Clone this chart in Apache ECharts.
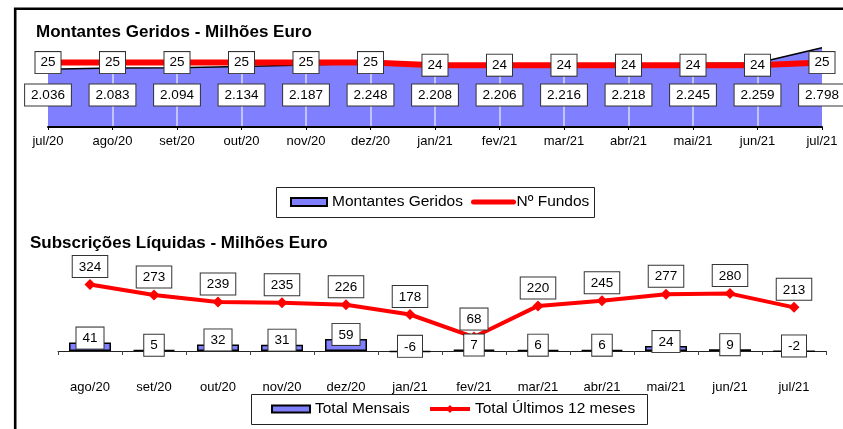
<!DOCTYPE html>
<html>
<head>
<meta charset="utf-8">
<script src="https://cdn.jsdelivr.net/npm/echarts@6/dist/echarts.min.js"></script>
<style>
html,body{margin:0;padding:0;background:#fff;}
#c{width:843px;height:429px;}
</style>
</head>
<body>
<div id="c"></div>
<script>
// ---- data ----
const months1 = ['jul/20','ago/20','set/20','out/20','nov/20','dez/20','jan/21','fev/21','mar/21','abr/21','mai/21','jun/21','jul/21'];
const montantes = [2036,2083,2094,2134,2187,2248,2208,2206,2216,2218,2245,2259,2798];
const fundos = [25,25,25,25,25,25,24,24,24,24,24,24,25];
const months2 = ['ago/20','set/20','out/20','nov/20','dez/20','jan/21','fev/21','mar/21','abr/21','mai/21','jun/21','jul/21'];
const totalMensais = [41,5,32,31,59,-6,7,6,6,24,9,-2];
const total12 = [324,273,239,235,226,178,68,220,245,277,280,213];

const FONT = '"Liberation Sans", Arial, sans-serif';
const BLUE = '#8080ff';
const RED = '#ff0000';

function fmtThousands(v){
  const s = String(Math.abs(v));
  const out = s.replace(/\B(?=(\d{3})+(?!\d))/g, '.');
  return (v < 0 ? '-' : '') + out;
}

const boxLabel = {
  show: true,
  color: '#000',
  fontFamily: FONT,
  fontSize: 13.5,
  lineHeight: 14,
  backgroundColor: '#fff',
  borderColor: '#333',
  borderWidth: 1,
  padding: [4, 6, 3, 6]
};

const chart = echarts.init(document.getElementById('c'), null, {renderer: 'canvas'});

function buildOption(amountLabelData){
  return {
    animation: false,
    textStyle: {fontFamily: FONT},
    title: [
      {text: 'Montantes Geridos - Milhões Euro', left: 36, top: 24, padding: 0,
       textStyle: {fontFamily: FONT, fontSize: 17, fontWeight: 'bold', color: '#000'}},
      {text: 'Subscrições Líquidas - Milhões Euro', left: 30, top: 235, padding: 0,
       textStyle: {fontFamily: FONT, fontSize: 17, fontWeight: 'bold', color: '#000'}}
    ],
    grid: [
      {left: 48, right: 21, top: 42, bottom: 302},
      {left: 58, right: 17, top: 269, bottom: 57.5}
    ],
    xAxis: [
      {gridIndex: 0, type: 'category', boundaryGap: false, data: months1, z: 2,
       axisLine: {lineStyle: {color: '#000', width: 2}},
       axisTick: {show: true, length: 3, lineStyle: {color: '#000', width: 1}},
       axisLabel: {margin: 8, fontSize: 13, color: '#000', fontFamily: FONT},
       splitLine: {show: false}},
      {gridIndex: 1, type: 'category', boundaryGap: true, data: months2,
       axisLine: {onZero: true, lineStyle: {color: '#222', width: 1}},
       axisTick: {show: true, length: 4, lineStyle: {color: '#444', width: 1}},
       axisLabel: {margin: 9, fontSize: 13, color: '#000', fontFamily: FONT},
       splitLine: {show: false}}
    ],
    yAxis: [
      {gridIndex: 0, type: 'value', min: 0, max: 3000, show: false},
      {gridIndex: 0, type: 'value', min: 0, max: 33, show: false},
      {gridIndex: 1, type: 'value', min: -100, max: 400, show: false}
    ],
    legend: [
      {left: 290, top: 193, padding: 0, itemWidth: 36, itemHeight: 8, selectedMode: false,
       data: [{name: 'Montantes Geridos', icon: 'rect', itemStyle: {color: BLUE, borderColor: '#000', borderWidth: 2}}],
       textStyle: {fontFamily: FONT, fontSize: 15.5, color: '#000', lineHeight: 18}},
      {left: 471, top: 193, padding: 0, itemWidth: 40, itemHeight: 10, itemGap: 0, selectedMode: false,
       data: [{name: 'Nº Fundos', itemStyle: {opacity: 0}, lineStyle: {width: 5, color: RED, cap: 'round'}}],
       textStyle: {fontFamily: FONT, fontSize: 15.5, color: '#000', lineHeight: 18, padding: [0, 0, 0, -2]}},
      {left: 271, top: 400, padding: 0, itemWidth: 38, itemHeight: 7, selectedMode: false,
       data: [{name: 'Total Mensais', icon: 'rect', itemStyle: {color: BLUE, borderColor: '#000', borderWidth: 2}}],
       textStyle: {fontFamily: FONT, fontSize: 15.5, color: '#000', lineHeight: 18}},
      {left: 428, top: 400, padding: 0, itemWidth: 40, itemHeight: 10, selectedMode: false,
       data: [{name: 'Total Últimos 12 meses', lineStyle: {width: 4, color: RED}}],
       textStyle: {fontFamily: FONT, fontSize: 15.5, color: '#000', lineHeight: 18}}
    ],
    graphic: [
      {type: 'rect', z: 100, silent: true,
       shape: {x: 15.2, y: 8.8, width: 1000, height: 1000},
       style: {fill: 'none', stroke: '#000', lineWidth: 2.6}},
      {type: 'rect', z: 0, silent: true,
       shape: {x: 276.5, y: 187.5, width: 318, height: 30},
       style: {fill: 'none', stroke: '#222', lineWidth: 1}},
      {type: 'rect', z: 0, silent: true,
       shape: {x: 251.5, y: 394.5, width: 396, height: 30},
       style: {fill: 'none', stroke: '#222', lineWidth: 1}}
    ],
    series: [
      {name: 'Montantes Geridos', type: 'line', xAxisIndex: 0, yAxisIndex: 0, z: 1,
       data: montantes, symbol: 'none', silent: true,
       lineStyle: {color: '#000', width: 1.5},
       itemStyle: {color: BLUE},
       areaStyle: {color: BLUE, opacity: 1}},
      {name: 'gridLines', type: 'line', xAxisIndex: 0, yAxisIndex: 0, z: 2,
       data: [], symbol: 'none', silent: true,
       markLine: {silent: true, z: 2, symbol: ['none', 'none'], animation: false,
         label: {show: false},
         lineStyle: {color: 'rgba(255,255,255,0.7)', width: 1.5, type: 'solid'},
         data: months1.slice(1, -1).map(m => ({xAxis: m}))}},
      {name: 'Nº Fundos', type: 'line', xAxisIndex: 0, yAxisIndex: 1, z: 3,
       data: fundos, symbol: 'circle', symbolSize: 1, silent: true,
       lineStyle: {color: RED, width: 6},
       itemStyle: {color: RED},
       label: Object.assign({}, boxLabel, {position: 'inside', padding: [4, 5, 3, 5]})},
      {name: 'lblMontantes', type: 'line', xAxisIndex: 0, yAxisIndex: 0, z: 4,
       data: amountLabelData, symbol: 'circle', symbolSize: 1, silent: true,
       lineStyle: {opacity: 0, width: 0},
       itemStyle: {color: 'rgba(0,0,0,0)'},
       label: Object.assign({}, boxLabel, {position: 'inside',
                     formatter: p => fmtThousands(p.value)})},
      {name: 'Total Mensais', type: 'bar', xAxisIndex: 1, yAxisIndex: 2, z: 4,
       data: totalMensais, barWidth: 42, silent: true,
       itemStyle: {color: BLUE, borderColor: '#000', borderWidth: 1.5},
       label: Object.assign({}, boxLabel, {position: 'top', distance: -6})},
      {name: 'Total Últimos 12 meses', type: 'line', xAxisIndex: 1, yAxisIndex: 2, z: 3,
       data: total12, symbol: 'diamond', symbolSize: 11, silent: true,
       lineStyle: {color: RED, width: 4},
       itemStyle: {color: RED},
       label: Object.assign({}, boxLabel, {position: 'top', distance: 2})}
    ]
  };
}

// first pass
chart.setOption(buildOption(montantes.slice()));
// second pass: place amount labels in a band below the line
const LABEL_Y = 95;
const amountLabelData = montantes.map((v, i) => {
  const py = chart.convertToPixel({xAxisIndex: 0, yAxisIndex: 0}, [i, v])[1];
  return {value: v, label: {offset: [0, LABEL_Y - py]}};
});
chart.setOption(buildOption(amountLabelData), true);
</script>
</body>
</html>
